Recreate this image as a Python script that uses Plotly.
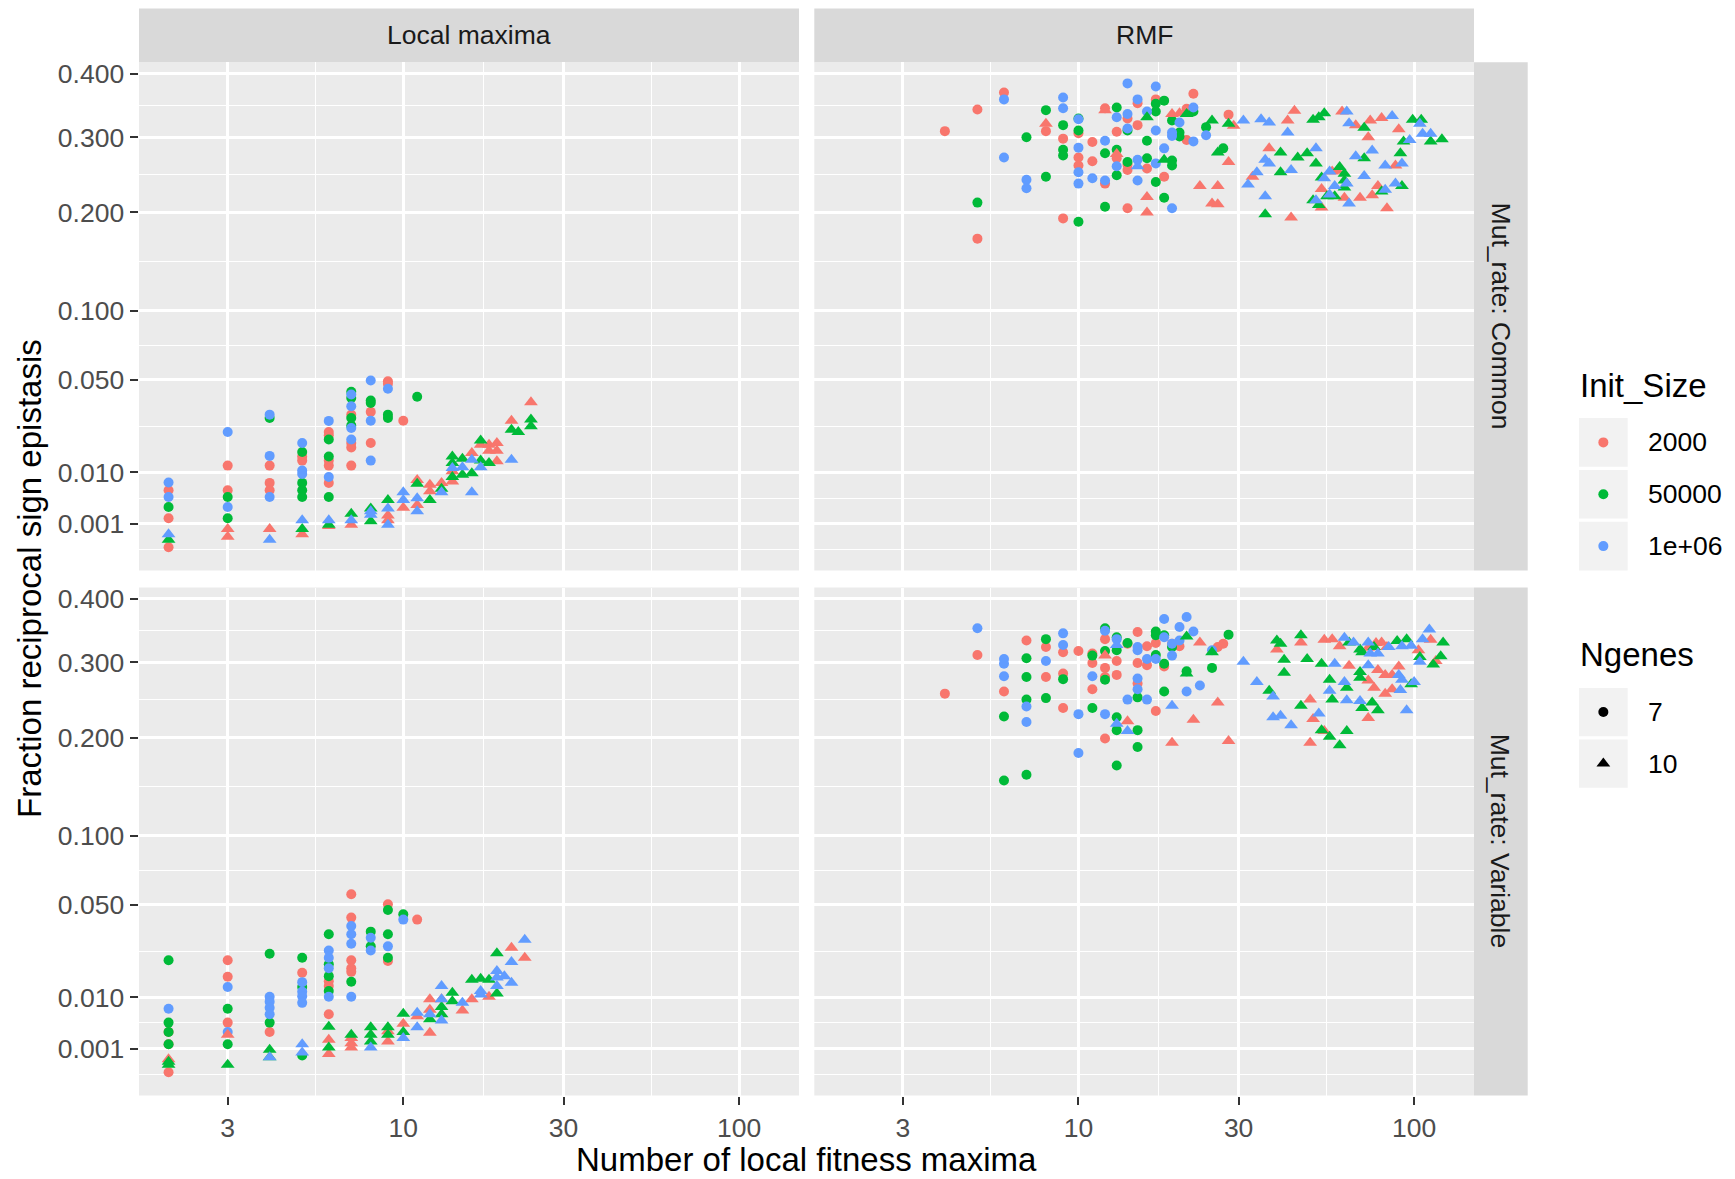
import numpy as np
import plotly.graph_objects as go

W, H = 1735, 1179
FONT = "Liberation Sans, Arial, Helvetica, sans-serif"

# ---------------- categories / labels ----------------
INIT_SIZES = ["2000", "50000", "1e+06"]
INIT_COLORS = ["#F8766D", "#00BA38", "#619CFF"]
NGENES = [7, 10]
NGENES_SYMBOLS = {7: "circle", 10: "triangle-up"}
NGENES_SIZES = {7: 10, 10: 12}
COL_LABELS = ["Local maxima", "RMF"]
ROW_LABELS = ["Mut_rate: Common", "Mut_rate: Variable"]
X_TICKS = [3, 10, 30, 100]
X_TICKTEXT = ["3", "10", "30", "100"]
Y_TICKS = [0.001, 0.01, 0.05, 0.1, 0.2, 0.3, 0.4]
Y_TICKTEXT = ["0.001", "0.010", "0.050", "0.100", "0.200", "0.300", "0.400"]
X_TITLE = "Number of local fitness maxima"
Y_TITLE = "Fraction reciprocal sign epistasis"

# ---------------- data: (n local maxima, fraction, init-size index, Ngenes) ----------------
lm_common = [
    (2, .0075, 2, 7), (2, .0058, 0, 7), (2, .0045, 2, 7), (2, .0029, 1, 7), (2, .0015, 0, 7),
    (2, .0003, 2, 10), (2, .0001, 1, 10), (2, 0.0, 0, 7),
    (3, .0237, 2, 7), (3, .0119, 0, 7), (3, .0058, 0, 7), (3, .0045, 1, 7), (3, .0029, 2, 7),
    (3, .0015, 1, 7), (3, .0006, 0, 10), (3, .0002, 0, 10),
    (4, .0314, 2, 7), (4, .0298, 1, 7), (4, .0149, 2, 7), (4, .0119, 0, 7), (4, .0074, 0, 7),
    (4, .0058, 0, 7), (4, .0045, 2, 7), (4, .0006, 0, 10), (4, .0001, 2, 10),
    (5, .0194, 2, 7), (5, .0162, 1, 7), (5, .0147, 0, 7), (5, .0134, 0, 7), (5, .0105, 2, 7),
    (5, .0096, 2, 7), (5, .0074, 1, 7), (5, .0058, 1, 7), (5, .0045, 1, 7), (5, .0013, 2, 10),
    (5, .0006, 1, 10), (5, .0003, 0, 10),
    (6, .0285, 2, 7), (6, .0237, 0, 7), (6, .0224, 0, 7), (6, .0207, 1, 7), (6, .0147, 1, 7),
    (6, .0134, 0, 7), (6, .0119, 0, 7), (6, .0088, 2, 7), (6, .0074, 0, 7), (6, .0045, 1, 7),
    (6, .0013, 2, 10), (6, .0008, 0, 10), (6, .0009, 1, 10),
    (7, .0431, 1, 7), (7, .0416, 2, 7), (7, .0398, 1, 7), (7, .0355, 2, 7), (7, .0314, 0, 7),
    (7, .0298, 1, 7), (7, .0264, 1, 7), (7, .0254, 2, 7), (7, .0207, 2, 7), (7, .0194, 0, 7),
    (7, .0178, 0, 7), (7, .0119, 0, 7), (7, .0020, 1, 10), (7, .0013, 2, 10), (7, .0009, 0, 10),
    (8, .0496, 2, 7), (8, .0384, 1, 7), (8, .0372, 1, 7), (8, .0327, 0, 7), (8, .0286, 2, 7),
    (8, .0194, 0, 7), (8, .0134, 2, 7), (8, .0027, 1, 10), (8, .0023, 2, 10), (8, .0019, 2, 10),
    (8, .0012, 1, 10),
    (9, .0492, 0, 7), (9, .0477, 0, 7), (9, .0448, 2, 7), (9, .0314, 1, 7), (9, .0298, 1, 7),
    (9, .0040, 1, 10), (9, .0027, 2, 10), (9, .0018, 0, 10), (9, .0013, 0, 10), (9, .0009, 2, 10),
    (10, .0286, 0, 7), (10, .0054, 2, 10), (10, .0040, 2, 10), (10, .0028, 0, 10),
    (11, .0404, 1, 7), (11, .0081, 0, 10), (11, .0072, 1, 10), (11, .0043, 2, 10),
    (11, .0032, 0, 10), (11, .0023, 2, 10),
    (12, .0070, 0, 10), (12, .0056, 0, 10), (12, .0040, 1, 10),
    (13, .0074, 0, 10), (13, .0061, 1, 10), (13, .0054, 2, 10),
    (14, .0147, 1, 10), (14, .0127, 1, 10), (14, .0112, 2, 10), (14, .0103, 0, 10),
    (14, .0088, 1, 10), (14, .0077, 0, 10),
    (15, .0140, 1, 10), (15, .0114, 2, 10), (15, .0094, 1, 10),
    (16, .0159, 0, 10), (16, .0137, 2, 10), (16, .0098, 1, 10), (16, .0054, 2, 10),
    (17, .0203, 1, 10), (17, .0188, 0, 10), (17, .0134, 1, 10), (17, .0114, 2, 10),
    (18, .0188, 0, 10), (18, .0166, 0, 10), (18, .0127, 1, 10),
    (19, .0194, 0, 10), (19, .0166, 0, 10), (19, .0132, 0, 10),
    (21, .0286, 0, 10), (21, .0247, 1, 10), (21, .0137, 2, 10),
    (22, .0237, 1, 10),
    (24, .0375, 0, 10), (24, .0291, 1, 10), (24, .0261, 1, 10),
]

lm_variable = [
    (2, .0224, 1, 7), (2, .0072, 2, 7), (2, .0044, 1, 7), (2, .0029, 0, 7), (2, .0029, 1, 7),
    (2, .0014, 0, 7), (2, .0014, 1, 7), (2, .0003, 0, 10), (2, .0002, 1, 10), (2, .0001, 1, 10),
    (2, 0.0, 0, 7),
    (3, .0224, 0, 7), (3, .0163, 0, 7), (3, .0130, 2, 7), (3, .0072, 1, 7), (3, .0044, 0, 7),
    (3, .0029, 2, 7), (3, .0014, 1, 7), (3, .0025, 0, 10), (3, .0001, 1, 10),
    (4, .0251, 1, 7), (4, .0102, 2, 7), (4, .0089, 2, 7), (4, .0074, 2, 7), (4, .0060, 2, 7),
    (4, .0044, 1, 7), (4, .0029, 0, 7), (4, .0009, 1, 10), (4, .0004, 2, 10), (4, .0004, 1, 10),
    (5, .0234, 1, 7), (5, .0177, 0, 7), (5, .0145, 2, 7), (5, .0130, 1, 7), (5, .0116, 2, 7),
    (5, .0103, 2, 7), (5, .0086, 2, 7), (5, .0005, 1, 7), (5, .0014, 2, 10), (5, .0007, 2, 10),
    (6, .0340, 1, 7), (6, .0265, 2, 7), (6, .0234, 2, 7), (6, .0208, 1, 7), (6, .0193, 2, 7),
    (6, .0165, 1, 7), (6, .0148, 0, 7), (6, .0133, 0, 7), (6, .0118, 1, 7), (6, .0102, 2, 7),
    (6, .0060, 0, 7), (6, .0037, 1, 10), (6, .0019, 0, 10), (6, .0011, 1, 10), (6, .0006, 0, 10),
    (7, .0566, 0, 7), (7, .0427, 0, 7), (7, .0382, 2, 7), (7, .0340, 2, 7), (7, .0295, 2, 7),
    (7, .0224, 0, 7), (7, .0193, 0, 7), (7, .0180, 0, 7), (7, .0146, 1, 7), (7, .0102, 2, 7),
    (7, .0025, 1, 10), (7, .0021, 0, 10), (7, .0015, 0, 10), (7, .0011, 0, 10),
    (8, .0353, 1, 7), (8, .0323, 2, 7), (8, .0283, 1, 7), (8, .0265, 2, 7), (8, .0036, 1, 10),
    (8, .0025, 1, 10), (8, .0017, 1, 10), (8, .0011, 2, 10),
    (9, .0504, 0, 7), (9, .0470, 1, 7), (9, .0340, 1, 7), (9, .0283, 2, 7), (9, .0234, 1, 7),
    (9, .0221, 0, 7), (9, .0036, 1, 10), (9, .0030, 0, 10), (9, .0025, 1, 10), (9, .0017, 0, 10),
    (10, .0446, 1, 7), (10, .0416, 2, 7), (10, .0061, 1, 10), (10, .0042, 0, 10),
    (10, .0029, 1, 10), (10, .0021, 2, 10),
    (11, .0416, 0, 7), (11, .0063, 2, 10), (11, .0056, 0, 10), (11, .0036, 2, 10),
    (12, .0095, 0, 10), (12, .0070, 0, 10), (12, .0060, 2, 10), (12, .0050, 1, 10), (12, .0028, 0, 10),
    (13, .0133, 2, 10), (13, .0095, 0, 10), (13, .0095, 2, 10), (13, .0076, 1, 10),
    (13, .0060, 1, 10), (13, .0048, 2, 10),
    (14, .0113, 1, 10), (14, .0090, 1, 10),
    (15, .0086, 2, 10), (15, .0068, 0, 10),
    (16, .0153, 1, 10), (16, .0095, 0, 10),
    (17, .0156, 1, 10), (17, .0118, 2, 10), (17, .0108, 2, 10),
    (18, .0153, 1, 10), (18, .0102, 0, 10),
    (19, .0253, 1, 10), (19, .0183, 2, 10), (19, .0160, 2, 10), (19, .0133, 2, 10), (19, .0111, 1, 10),
    (20, .0165, 2, 10),
    (21, .0277, 0, 10), (21, .0217, 2, 10), (21, .0143, 2, 10),
    (23, .0314, 2, 10), (23, .0234, 0, 10),
]

rmf_common = [
    (4, .309, 0, 7), (5, .342, 0, 7), (5, .212, 1, 7), (5, .170, 0, 7), (6, .369, 0, 7),
    (6, .358, 2, 7), (6, .271, 2, 7), (7, .300, 1, 7), (7, .241, 2, 7), (7, .230, 2, 7),
    (8, .341, 1, 7), (8, .320, 0, 10), (8, .309, 0, 7), (8, .245, 1, 7),
    (9, .361, 2, 7), (9, .344, 2, 7), (9, .318, 1, 7), (9, .298, 0, 7), (9, .282, 1, 7),
    (9, .274, 1, 7), (9, .193, 0, 7),
    (10, .328, 1, 7), (10, .327, 2, 7), (10, .310, 1, 7), (10, .306, 0, 7), (10, .285, 2, 7),
    (10, .271, 0, 7), (10, .260, 0, 7), (10, .251, 2, 7), (10, .236, 2, 7), (10, .189, 1, 7),
    (11, .293, 0, 7), (11, .266, 0, 7), (11, .243, 2, 7),
    (12, .295, 2, 7), (12, .277, 1, 7), (12, .236, 0, 7), (12, .240, 2, 7), (12, .207, 1, 7),
    (12, .344, 0, 7), (12, .341, 0, 10),
    (13, .345, 1, 7), (13, .330, 2, 7), (13, .308, 0, 7), (13, .282, 1, 7), (13, .276, 0, 10),
    (13, .270, 0, 7), (13, .259, 2, 7), (13, .247, 1, 7),
    (14, .328, 0, 7), (14, .335, 2, 7), (14, .310, 1, 7), (14, .313, 2, 7), (14, .265, 1, 7),
    (14, .261, 0, 7), (14, .254, 0, 7), (14, .205, 0, 7), (14, .384, 2, 7),
    (15, .358, 2, 7), (15, .352, 0, 7), (15, .318, 0, 7), (15, .268, 2, 7), (15, .259, 2, 10),
    (15, .240, 2, 7),
    (16, .339, 2, 7), (16, .330, 1, 10), (16, .295, 1, 7), (16, .270, 1, 7), (16, .256, 0, 7),
    (16, .219, 0, 10), (16, .200, 0, 10),
    (17, .379, 2, 7), (17, .358, 0, 7), (17, .351, 1, 7), (17, .339, 1, 7), (17, .310, 2, 7),
    (17, .263, 2, 7), (17, .238, 1, 7),
    (18, .268, 1, 10), (18, .356, 1, 7), (18, .284, 2, 7), (18, .245, 0, 7), (18, .218, 1, 7),
    (19, .205, 2, 7), (19, .335, 0, 10), (19, .325, 1, 7), (19, .307, 2, 7), (19, .267, 1, 7),
    (19, .260, 1, 7), (19, .302, 2, 7),
    (20, .307, 1, 7), (20, .301, 1, 7), (20, .322, 2, 7), (20, .336, 0, 10),
    (21, .343, 0, 7), (21, .335, 1, 10), (21, .296, 0, 7),
    (22, .345, 2, 7), (22, .339, 1, 7), (22, .367, 0, 7), (22, .294, 2, 7),
    (23, .233, 0, 10), (25, .211, 0, 10), (26, .210, 0, 10), (26, .233, 0, 10), (24, .315, 1, 7),
    (24, .303, 2, 7), (25, .325, 1, 10), (27, .284, 1, 7), (26, .278, 1, 10), (28, .265, 0, 10),
    (28, .334, 0, 7), (28, .320, 1, 10), (29, .317, 0, 10),
    (31, .325, 2, 10), (32, .235, 2, 10), (33, .245, 0, 10), (34, .251, 2, 10), (35, .327, 2, 10),
    (37, .322, 2, 10), (36, .220, 2, 10), (36, .198, 1, 10), (37, .284, 0, 10), (36, .268, 2, 10),
    (37, .263, 2, 10),
    (40, .278, 1, 10), (40, .251, 1, 10), (42, .325, 0, 10), (42, .307, 2, 10), (43, .194, 0, 10),
    (43, .254, 2, 10), (44, .340, 0, 10), (45, .271, 1, 10), (48, .277, 1, 10),
    (51, .284, 2, 10), (51, .263, 1, 10), (50, .326, 1, 10), (52, .330, 1, 10), (54, .336, 1, 10),
    (53, .244, 1, 10), (54, .243, 2, 10), (53, .229, 0, 10), (50, .215, 1, 10), (51, .215, 2, 10),
    (53, .206, 0, 10), (52, .209, 1, 10), (55, .220, 1, 10), (56, .222, 2, 10), (57, .252, 0, 10),
    (56, .252, 2, 10),
    (60, .258, 1, 10), (59, .253, 0, 10), (62, .249, 1, 10), (58, .233, 2, 10), (62, .240, 1, 10),
    (63, .236, 2, 10), (62, .231, 1, 10), (58, .220, 1, 10), (62, .218, 0, 10), (64, .211, 2, 10),
    (61, .339, 0, 10), (63, .339, 2, 10), (64, .321, 2, 10),
    (67, .318, 0, 10), (71, .314, 1, 10), (73, .300, 0, 10), (67, .273, 2, 10), (71, .270, 1, 10),
    (75, .281, 2, 10), (74, .325, 0, 10), (80, .329, 0, 10), (86, .332, 2, 10), (69, .218, 0, 10),
    (75, .221, 0, 10), (71, .246, 2, 10), (78, .233, 0, 10), (80, .226, 1, 10), (82, .228, 2, 10),
    (83, .205, 0, 10), (82, .260, 2, 10), (88, .260, 0, 10), (88, .236, 2, 10),
    (92, .263, 2, 10), (92, .233, 1, 10), (91, .277, 1, 10), (90, .312, 0, 10), (93, .294, 1, 10),
    (97, .296, 2, 10), (99, .326, 1, 10), (105, .326, 1, 10), (104, .320, 2, 10), (106, .305, 2, 10),
    (112, .305, 2, 10), (112, .294, 1, 10), (121, .297, 1, 10),
]

rmf_variable = [
    (4, .256, 0, 7), (5, .352, 2, 7), (5, .311, 0, 7), (6, .305, 2, 7), (6, .298, 2, 7),
    (6, .280, 2, 7), (6, .259, 0, 7), (6, .226, 1, 7), (6, .152, 1, 7),
    (7, .333, 0, 7), (7, .306, 1, 7), (7, .279, 1, 7), (7, .248, 1, 7), (7, .239, 2, 7),
    (7, .219, 2, 7), (7, .158, 1, 7),
    (8, .335, 1, 7), (8, .323, 0, 7), (8, .302, 2, 7), (8, .279, 0, 7), (8, .250, 1, 7),
    (9, .344, 2, 7), (9, .326, 2, 7), (9, .315, 0, 7), (9, .284, 0, 7), (9, .276, 1, 7),
    (9, .237, 0, 7),
    (10, .317, 0, 7), (10, .229, 2, 7), (10, .182, 2, 7),
    (11, .310, 1, 7), (11, .313, 0, 7), (11, .299, 0, 7), (11, .280, 2, 7), (11, .262, 0, 7),
    (11, .237, 1, 7),
    (12, .352, 1, 7), (12, .348, 2, 7), (12, .335, 0, 7), (12, .317, 1, 7), (12, .310, 0, 10),
    (12, .292, 0, 7), (12, .279, 0, 7), (12, .275, 1, 7), (12, .229, 2, 7), (12, .199, 0, 7),
    (13, .338, 1, 7), (13, .335, 2, 7), (13, .326, 2, 10), (13, .318, 1, 7), (13, .302, 0, 7),
    (13, .282, 0, 7), (13, .225, 1, 7), (13, .217, 2, 10), (13, .209, 1, 7), (13, .168, 1, 7),
    (14, .328, 0, 7), (14, .329, 1, 7), (14, .220, 0, 10), (14, .208, 2, 10), (14, .248, 2, 7),
    (15, .346, 0, 7), (15, .323, 2, 7), (15, .318, 2, 7), (15, .299, 0, 7), (15, .270, 0, 7),
    (15, .277, 2, 7), (15, .262, 2, 7), (15, .251, 1, 7), (15, .209, 1, 7), (15, .189, 1, 7),
    (16, .324, 0, 7), (16, .296, 0, 7), (16, .305, 2, 7), (16, .248, 2, 7),
    (17, .329, 0, 7), (17, .347, 1, 7), (17, .341, 1, 7), (17, .305, 2, 7), (17, .311, 1, 7),
    (17, .233, 0, 7),
    (18, .367, 2, 7), (18, .341, 1, 7), (18, .338, 2, 7), (18, .298, 1, 7), (18, .294, 0, 7),
    (18, .259, 1, 7),
    (19, .328, 2, 7), (19, .328, 0, 7), (19, .323, 1, 7), (19, .310, 2, 7), (19, .240, 2, 10),
    (19, .194, 0, 10),
    (20, .354, 2, 7), (20, .333, 2, 7), (20, .324, 0, 7),
    (21, .287, 1, 7), (21, .339, 1, 10), (21, .284, 1, 10), (21, .370, 2, 7), (21, .259, 2, 7),
    (22, .347, 2, 7), (22, .222, 0, 10), (23, .267, 2, 7), (23, .330, 0, 10),
    (25, .318, 2, 7), (25, .315, 1, 10), (26, .323, 0, 7), (27, .328, 0, 7), (28, .342, 1, 7),
    (25, .292, 1, 7), (26, .244, 0, 10), (28, .196, 0, 10),
    (31, .301, 2, 10), (34, .272, 2, 10), (37, .260, 1, 10), (38, .252, 2, 10), (38, .225, 2, 10),
    (40, .227, 2, 10), (43, .215, 2, 10), (39, .333, 1, 10), (39, .319, 0, 10), (40, .328, 1, 10),
    (41, .304, 1, 10), (41, .285, 1, 10),
    (46, .341, 1, 10), (46, .330, 0, 10), (48, .305, 1, 10), (49, .248, 0, 10), (46, .240, 1, 10),
    (52, .230, 2, 10), (50, .223, 0, 10), (49, .194, 0, 10), (53, .298, 1, 10), (53, .209, 1, 10),
    (54, .208, 0, 10), (56, .201, 1, 10), (60, .191, 1, 10), (63, .208, 1, 10),
    (54, .334, 0, 10), (57, .335, 0, 10), (62, .337, 2, 10), (60, .324, 0, 10), (64, .330, 1, 10),
    (66, .330, 2, 10), (56, .275, 1, 10), (56, .260, 2, 10), (57, .248, 1, 10), (58, .298, 2, 10),
    (62, .272, 2, 10), (63, .264, 1, 10), (63, .247, 2, 10), (64, .295, 0, 10),
    (69, .286, 1, 10), (69, .278, 1, 10), (69, .246, 2, 10), (70, .237, 1, 10), (73, .296, 2, 10),
    (69, .319, 1, 10), (70, .315, 1, 10), (73, .330, 2, 10), (74, .313, 2, 10), (73, .322, 0, 10),
    (76, .323, 1, 10), (78, .313, 2, 10), (77, .329, 0, 10), (80, .330, 0, 10), (83, .323, 0, 10),
    (84, .323, 2, 10),
    (73, .274, 0, 10), (76, .264, 0, 10), (75, .244, 1, 10), (78, .234, 1, 10), (73, .224, 0, 10),
    (78, .289, 0, 10), (82, .256, 0, 10), (82, .282, 0, 10), (86, .282, 0, 10), (86, .262, 0, 10),
    (90, .294, 0, 10), (90, .282, 2, 10), (92, .275, 2, 10), (91, .261, 2, 10), (95, .234, 2, 10),
    (89, .332, 1, 10), (95, .335, 1, 10), (92, .324, 2, 10), (98, .325, 2, 10), (103, .318, 0, 10),
    (104, .308, 1, 10), (104, .301, 2, 10), (100, .272, 2, 10), (98, .269, 1, 10), (111, .350, 2, 10),
    (106, .335, 2, 10), (112, .334, 0, 10), (122, .330, 1, 10), (120, .309, 1, 10), (116, .302, 0, 10),
    (114, .297, 1, 10),
]

PANELS = [[lm_common, rmf_common], [lm_variable, rmf_variable]]

# ---------------- layout geometry (pixels) ----------------
PANEL_X = [(139.0, 799.0), (814.3, 1474.0)]
PANEL_Y = [(59.5, 569.0), (586.0, 1095.3)]
STRIP_TOP = (5.5, 59.5)
STRIP_RIGHT = (1474.0, 1527.7)
X_RANGE = [0.2130, 2.1784]          # log10 units
Y_RANGE = [-0.0311, 0.6478]         # sqrt units

def fx(p):
    return p / W

def fy(p):
    return 1 - p / H

def gg_minor(majors, lo, hi):
    b = list(majors)
    bd = b[1] - b[0]
    if lo < b[0]:
        b = [b[0] - bd] + b
    if hi > b[-1]:
        b = b + [b[-1] + bd]
    mids = [(a + c) / 2 for a, c in zip(b[:-1], b[1:])]
    return [m for m in mids if lo <= m <= hi]

x_minor = [10 ** m for m in gg_minor(np.log10(X_TICKS), *X_RANGE)]
y_major_t = list(np.sqrt(Y_TICKS))
y_minor = gg_minor(y_major_t, *Y_RANGE)

fig = go.Figure()
layout = dict(
    width=W, height=H, margin=dict(l=0, r=0, t=0, b=0),
    paper_bgcolor="white", plot_bgcolor="rgba(0,0,0,0)",
    showlegend=False, font=dict(family=FONT),
)
shapes, annotations = [], []

tickfont = dict(family=FONT, size=26.5, color="#4D4D4D")

for r in range(2):
    for c in range(2):
        k = r * 2 + c + 1
        xa = "xaxis" if k == 1 else f"xaxis{k}"
        ya = "yaxis" if k == 1 else f"yaxis{k}"
        xref = "x" if k == 1 else f"x{k}"
        yref = "y" if k == 1 else f"y{k}"
        layout[xa] = dict(
            domain=[fx(PANEL_X[c][0]), fx(PANEL_X[c][1])], anchor=yref,
            type="log", range=X_RANGE, tickmode="array", tickvals=X_TICKS, ticktext=X_TICKTEXT,
            showticklabels=(r == 1), ticks="outside" if r == 1 else "",
            ticklen=8.5, tickwidth=2.2, tickcolor="#333333", tickfont=tickfont,
            showgrid=True, gridcolor="white", gridwidth=2.7,
            minor=dict(tickmode="array", tickvals=x_minor, showgrid=True, gridcolor="white",
                       gridwidth=1.4, ticks=""),
            zeroline=False, showline=False, fixedrange=True,
        )
        layout[ya] = dict(
            domain=[fy(PANEL_Y[r][1]), fy(PANEL_Y[r][0])], anchor=xref,
            range=Y_RANGE, tickmode="array", tickvals=y_major_t, ticktext=Y_TICKTEXT,
            showticklabels=(c == 0), ticks="outside" if c == 0 else "",
            ticklen=8.5, tickwidth=2.2, tickcolor="#333333", tickfont=tickfont,
            showgrid=True, gridcolor="white", gridwidth=2.7,
            minor=dict(tickmode="array", tickvals=y_minor, showgrid=True, gridcolor="white",
                       gridwidth=1.4, ticks=""),
            zeroline=False, showline=False, fixedrange=True,
        )
        # panel background
        shapes.append(dict(type="rect", xref="paper", yref="paper", layer="below",
                           x0=fx(PANEL_X[c][0]), x1=fx(PANEL_X[c][1]),
                           y0=fy(PANEL_Y[r][1]), y1=fy(PANEL_Y[r][0]),
                           fillcolor="#EBEBEB", line=dict(width=0)))
        pts = PANELS[r][c]
        for g in NGENES:
            for si in range(len(INIT_SIZES)):
                sel = [p for p in pts if p[2] == si and p[3] == g]
                if not sel:
                    continue
                fig.add_trace(go.Scatter(
                    x=[p[0] for p in sel], y=np.sqrt([p[1] for p in sel]),
                    mode="markers", xaxis=xref, yaxis=yref,
                    marker=dict(color=INIT_COLORS[si], symbol=NGENES_SYMBOLS[g],
                                size=NGENES_SIZES[g], line=dict(width=0)),
                    name=f"{INIT_SIZES[si]} / {g}", hoverinfo="skip",
                ))

# strips
for c in range(2):
    shapes.append(dict(type="rect", xref="paper", yref="paper", layer="below",
                       x0=fx(PANEL_X[c][0]), x1=fx(PANEL_X[c][1]),
                       y0=fy(STRIP_TOP[1]), y1=fy(STRIP_TOP[0]),
                       fillcolor="#D9D9D9", line=dict(width=0)))
    annotations.append(dict(xref="paper", yref="paper", showarrow=False,
                            x=fx(sum(PANEL_X[c]) / 2), y=fy(sum(STRIP_TOP) / 2),
                            text=COL_LABELS[c], xanchor="center", yanchor="middle",
                            font=dict(family=FONT, size=26.5, color="#1A1A1A")))
for r in range(2):
    shapes.append(dict(type="rect", xref="paper", yref="paper", layer="below",
                       x0=fx(STRIP_RIGHT[0]), x1=fx(STRIP_RIGHT[1]),
                       y0=fy(PANEL_Y[r][1]), y1=fy(PANEL_Y[r][0]),
                       fillcolor="#D9D9D9", line=dict(width=0)))
    annotations.append(dict(xref="paper", yref="paper", showarrow=False,
                            x=fx(sum(STRIP_RIGHT) / 2), y=fy(sum(PANEL_Y[r]) / 2),
                            text=ROW_LABELS[r], textangle=90, xanchor="center", yanchor="middle",
                            font=dict(family=FONT, size=26.5, color="#1A1A1A")))

# axis titles
annotations.append(dict(xref="paper", yref="paper", showarrow=False,
                        x=fx((PANEL_X[0][0] + PANEL_X[1][1]) / 2), y=fy(1159.0),
                        text=X_TITLE, xanchor="center", yanchor="middle",
                        font=dict(family=FONT, size=33, color="black")))
annotations.append(dict(xref="paper", yref="paper", showarrow=False,
                        x=fx(30), y=fy((PANEL_Y[0][0] + PANEL_Y[1][1]) / 2),
                        text=Y_TITLE, textangle=-90, xanchor="center", yanchor="middle",
                        font=dict(family=FONT, size=33, color="black")))

# ---------------- legend (drawn manually, ggplot style) ----------------
LEG_KEY_X = (1579.0, 1627.7)
LEG_LABEL_X = 1645.7
LEG_TITLE_X = 1578.0
init_title_y = 383.3
init_keys = [(416.0, 465.0), (468.3, 516.7), (520.0, 569.0)]
genes_title_y = 653.3
genes_keys = [(686.7, 735.0), (738.3, 786.7)]

layout["xaxis5"] = dict(domain=[0, 1], range=[0, W], visible=False, fixedrange=True, anchor="y5")
layout["yaxis5"] = dict(domain=[0, 1], range=[H, 0], visible=False, fixedrange=True, anchor="x5")

for title, ty in (("Init_Size", init_title_y), ("Ngenes", genes_title_y)):
    annotations.append(dict(xref="paper", yref="paper", showarrow=False,
                            x=fx(LEG_TITLE_X), y=fy(ty), text=title,
                            xanchor="left", yanchor="middle",
                            font=dict(family=FONT, size=33, color="black")))

kx = sum(LEG_KEY_X) / 2
for i, (y0, y1) in enumerate(init_keys):
    shapes.append(dict(type="rect", xref="paper", yref="paper", layer="below",
                       x0=fx(LEG_KEY_X[0]), x1=fx(LEG_KEY_X[1]), y0=fy(y1), y1=fy(y0),
                       fillcolor="#F2F2F2", line=dict(width=0)))
    annotations.append(dict(xref="paper", yref="paper", showarrow=False,
                            x=fx(LEG_LABEL_X), y=fy((y0 + y1) / 2), text=INIT_SIZES[i],
                            xanchor="left", yanchor="middle",
                            font=dict(family=FONT, size=26.5, color="black")))
    fig.add_trace(go.Scatter(x=[kx], y=[(y0 + y1) / 2], xaxis="x5", yaxis="y5", mode="markers",
                             marker=dict(color=INIT_COLORS[i], symbol="circle", size=NGENES_SIZES[7],
                                         line=dict(width=0)), hoverinfo="skip"))
for i, (y0, y1) in enumerate(genes_keys):
    shapes.append(dict(type="rect", xref="paper", yref="paper", layer="below",
                       x0=fx(LEG_KEY_X[0]), x1=fx(LEG_KEY_X[1]), y0=fy(y1), y1=fy(y0),
                       fillcolor="#F2F2F2", line=dict(width=0)))
    annotations.append(dict(xref="paper", yref="paper", showarrow=False,
                            x=fx(LEG_LABEL_X), y=fy((y0 + y1) / 2), text=str(NGENES[i]),
                            xanchor="left", yanchor="middle",
                            font=dict(family=FONT, size=26.5, color="black")))
    fig.add_trace(go.Scatter(x=[kx], y=[(y0 + y1) / 2], xaxis="x5", yaxis="y5", mode="markers",
                             marker=dict(color="black", symbol=NGENES_SYMBOLS[NGENES[i]],
                                         size=NGENES_SIZES[NGENES[i]],
                                         line=dict(width=0)), hoverinfo="skip"))

layout["shapes"] = shapes
layout["annotations"] = annotations
fig.update_layout(**layout)

fig.write_html("out.html", config={"displayModeBar": False},
               post_script="document.body.style.margin='0';document.body.style.overflow='hidden';")
